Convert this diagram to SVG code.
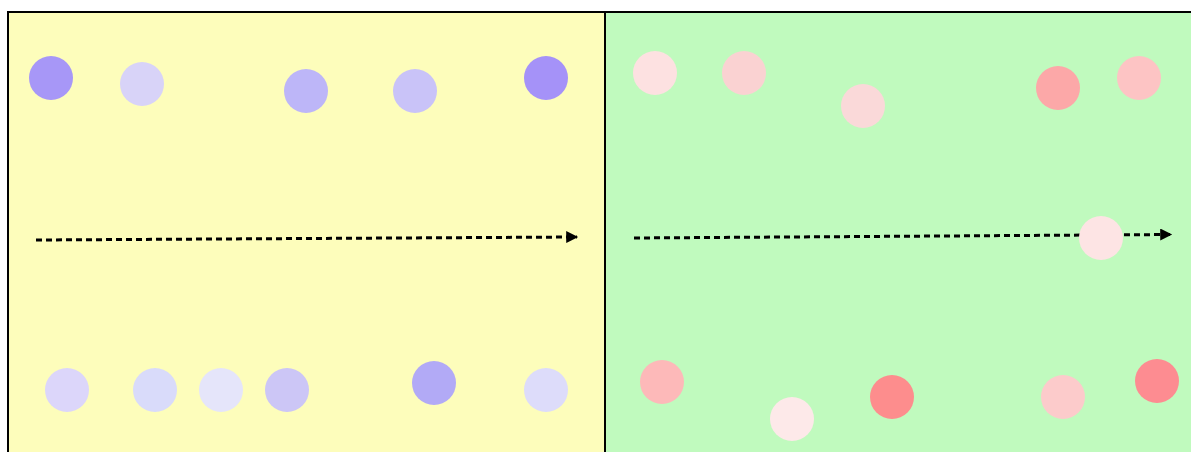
<svg xmlns="http://www.w3.org/2000/svg" width="1191" height="452" viewBox="0 0 1191 452">
<style>
.panel{stroke:#000;stroke-width:2}
.flow{fill:none;stroke:#000;stroke-width:3;stroke-dasharray:6 4}
</style>
<defs>
<marker id="ah" viewBox="0 0 10 10" refX="9" refY="5" markerWidth="4.2" markerHeight="4" orient="auto" markerUnits="strokeWidth">
<path d="M0,0 L10,5 L0,10 Z" fill="#000"/>
</marker>
</defs>
<rect width="1191" height="452" fill="#fff"/>
<g id="panel-left"><rect class="panel" x="8" y="12" width="597" height="445" fill="#fdfdbb"/></g>
<g id="panel-right"><rect class="panel" x="605" y="12" width="600" height="445" fill="#c0fabe"/></g>
<g id="connectors">
<path class="flow" d="M36,240 L577,237" marker-end="url(#ah)"/>
<path class="flow" d="M634,238 L1171,234.5" marker-end="url(#ah)"/>
</g>
<g id="left-dots">
<circle id="l1" cx="51" cy="78" r="22" fill="#a797f7"/>
<circle id="l2" cx="142" cy="84" r="22" fill="#d8d3f8"/>
<circle id="l3" cx="306" cy="91" r="22" fill="#bdb6f8"/>
<circle id="l4" cx="415" cy="91" r="22" fill="#c9c3f8"/>
<circle id="l5" cx="546" cy="78" r="22" fill="#a592f8"/>
<circle id="l6" cx="67" cy="390" r="22" fill="#dcd6fa"/>
<circle id="l7" cx="155" cy="390" r="22" fill="#d9dbfa"/>
<circle id="l8" cx="221" cy="390" r="22" fill="#e5e5fa"/>
<circle id="l9" cx="287" cy="390" r="22" fill="#ccc6f6"/>
<circle id="l10" cx="434" cy="383" r="22" fill="#b2aaf6"/>
<circle id="l11" cx="546" cy="390" r="22" fill="#dddcfa"/>
</g>
<g id="right-dots">
<circle id="r1" cx="655" cy="73" r="22" fill="#fde1e1"/>
<circle id="r2" cx="744" cy="73" r="22" fill="#fad2d2"/>
<circle id="r3" cx="863" cy="106" r="22" fill="#fad9d9"/>
<circle id="r4" cx="1058" cy="88" r="22" fill="#fca8a8"/>
<circle id="r5" cx="1139" cy="78" r="22" fill="#fdc4c4"/>
<circle id="r6" cx="1101" cy="238" r="22" fill="#fde4e4"/>
<circle id="r7" cx="662" cy="382" r="22" fill="#fdb9b9"/>
<circle id="r8" cx="792" cy="419" r="22" fill="#fde9e9"/>
<circle id="r9" cx="892" cy="397" r="22" fill="#fd8d8d"/>
<circle id="r10" cx="1063" cy="397" r="22" fill="#fccbcb"/>
<circle id="r11" cx="1157" cy="381" r="22" fill="#fd8c91"/>
</g>
</svg>
